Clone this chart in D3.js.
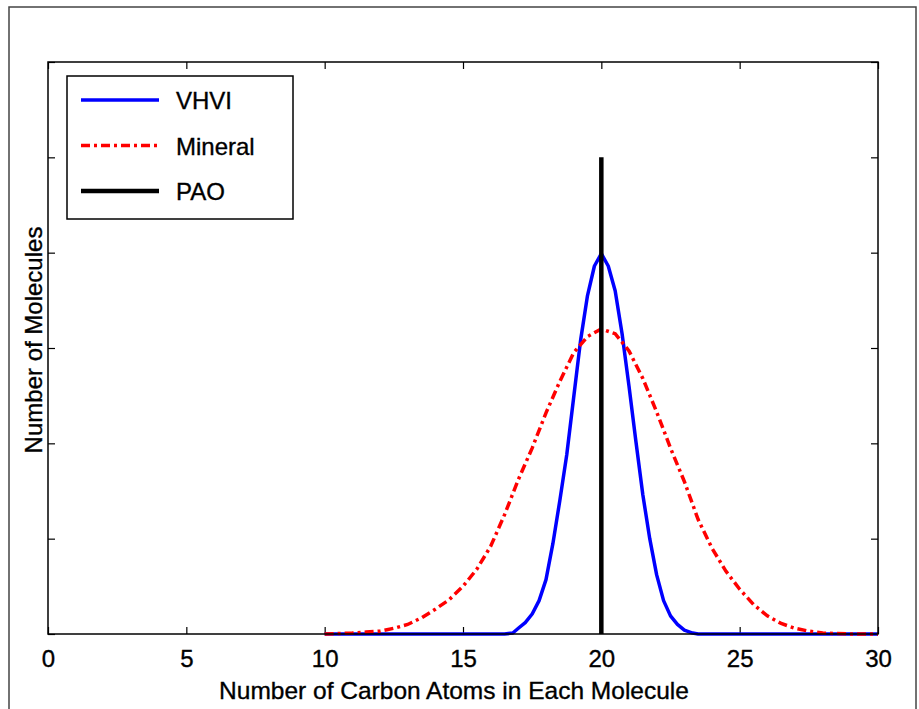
<!DOCTYPE html>
<html>
<head>
<meta charset="utf-8">
<script src="https://cdn.jsdelivr.net/npm/d3@7"></script>
<style>
  body { margin: 0; background: #fff; }
  svg { display: block; font-family: "Liberation Sans", Arial, sans-serif; }
  text { stroke: #000; stroke-width: 0.35px; }
</style>
</head>
<body>
<svg width="919" height="709"></svg>
<script>
// data
var xTicks = [0, 5, 10, 15, 20, 25, 30];
var yTicks = [0, 1, 2, 3, 4, 5, 6];

var vhviX = [10, 11, 12, 13, 14, 15, 16, 16.5, 16.8, 17, 17.25, 17.5, 17.75, 18, 18.25, 18.5, 18.75, 19, 19.25, 19.5, 19.75, 20,
             20.25, 20.5, 20.75, 21, 21.25, 21.5, 21.75, 22, 22.25, 22.5, 22.75, 23, 23.3, 23.5, 25, 27, 30];
var vhviY = [0, 0, 0, 0, 0, 0, 0, 0, 0.01, 0.06, 0.12, 0.21, 0.35, 0.57, 0.95, 1.40, 1.88, 2.48, 3.08, 3.55, 3.86, 3.99,
             3.86, 3.60, 3.15, 2.60, 2.02, 1.46, 1.00, 0.62, 0.35, 0.19, 0.10, 0.04, 0.01, 0, 0, 0, 0];

var mineralX = [10, 10.5, 11, 11.5, 12, 12.5, 13, 13.5, 14, 14.5, 15, 15.5, 16, 16.5, 17, 17.5, 18, 18.5, 19, 19.5, 20,
                20.5, 21, 21.5, 22, 22.5, 23, 23.5, 24, 24.5, 25, 25.5, 26, 26.5, 27, 27.5, 28, 28.5, 29, 29.5, 30];
var mineralY = [0, 0.005, 0.01, 0.02, 0.03, 0.06, 0.10, 0.17, 0.26, 0.36, 0.50, 0.68, 0.92, 1.25, 1.62, 1.95, 2.32, 2.65, 2.95, 3.12, 3.20,
                3.15, 2.97, 2.68, 2.33, 1.95, 1.60, 1.20, 0.90, 0.66, 0.47, 0.31, 0.19, 0.11, 0.06, 0.03, 0.01, 0.005, 0, 0, 0];

var paoX = [20, 20];
var paoY = [0, 5];

var seriesNames = ["VHVI", "Mineral", "PAO"];

var svg = d3.select("svg"),
    margin = {top: 62, right: 41, bottom: 75, left: 48},
    width = +svg.attr("width") - margin.left - margin.right,
    height = +svg.attr("height") - margin.top - margin.bottom;

var x = d3.scaleLinear().domain([0, 30]).range([0, width]),
    y = d3.scaleLinear().domain([0, 6]).range([height, 0]);

// outer figure frame
svg.append("rect")
    .attr("x", 9).attr("y", 7)
    .attr("width", 907).attr("height", 720)
    .attr("fill", "none")
    .attr("stroke", "#444")
    .attr("stroke-width", 1.5);

var g = svg.append("g")
    .attr("transform", "translate(" + margin.left + "," + margin.top + ")");

function styleAxis(sel) {
    sel.select(".domain").remove();
    sel.selectAll(".tick line").attr("stroke", "#000").attr("stroke-width", 1.2);
    sel.selectAll(".tick text").attr("fill", "#000").style("font-size", "24px")
        .style("font-family", "'Liberation Sans', Arial, sans-serif");
}

g.append("g")
    .attr("transform", "translate(0," + height + ")")
    .call(d3.axisBottom(x).tickValues(xTicks).tickSizeInner(-7).tickSizeOuter(0).tickPadding(16))
    .call(styleAxis);

g.append("g")
    .call(d3.axisTop(x).tickValues(xTicks).tickSizeInner(-7).tickSizeOuter(0).tickFormat(""))
    .call(styleAxis);

g.append("g")
    .call(d3.axisLeft(y).tickValues(yTicks).tickSizeInner(-7).tickSizeOuter(0).tickFormat(""))
    .call(styleAxis);

g.append("g")
    .attr("transform", "translate(" + width + ",0)")
    .call(d3.axisRight(y).tickValues(yTicks).tickSizeInner(-7).tickSizeOuter(0).tickFormat(""))
    .call(styleAxis);

var line = d3.line()
    .x(function (d) { return x(d[0]); })
    .y(function (d) { return y(d[1]); });

var vhvi = d3.zip(vhviX, vhviY),
    mineral = d3.zip(mineralX, mineralY),
    pao = d3.zip(paoX, paoY);

g.append("path")
    .datum(vhvi)
    .attr("fill", "none")
    .attr("stroke", "#0000ff")
    .attr("stroke-width", 3.5)
    .attr("stroke-linejoin", "round")
    .attr("d", line);

g.append("path")
    .datum(mineral)
    .attr("fill", "none")
    .attr("stroke", "#ff0000")
    .attr("stroke-width", 3.5)
    .attr("stroke-dasharray", "9,4,3,4")
    .attr("d", line);

g.append("path")
    .datum(pao)
    .attr("fill", "none")
    .attr("stroke", "#000")
    .attr("stroke-width", 4.5)
    .attr("d", line);

// plot frame
g.append("rect")
    .attr("width", width)
    .attr("height", height)
    .attr("fill", "none")
    .attr("stroke", "#000")
    .attr("stroke-width", 1.5);

// axis labels
svg.append("text")
    .attr("x", 454).attr("y", 699)
    .attr("text-anchor", "middle")
    .style("font-size", "24.5px")
    .text("Number of Carbon Atoms in Each Molecule");

svg.append("text")
    .attr("transform", "translate(42,340) rotate(-90)")
    .attr("text-anchor", "middle")
    .style("font-size", "24px")
    .text("Number of Molecules");

// legend
var legend = svg.append("g");
legend.append("rect")
    .attr("x", 67).attr("y", 76)
    .attr("width", 226).attr("height", 143)
    .attr("fill", "#fff")
    .attr("stroke", "#000")
    .attr("stroke-width", 1.5);

var legendStyle = [
    {color: "#0000ff", width: 3.5, dash: null},
    {color: "#ff0000", width: 3.5, dash: "9,4,3,4"},
    {color: "#000", width: 4.5, dash: null}
];

seriesNames.forEach(function (name, i) {
    var ly = 100 + i * 45.5;
    legend.append("line")
        .attr("x1", 81).attr("x2", 159)
        .attr("y1", ly).attr("y2", ly)
        .attr("stroke", legendStyle[i].color)
        .attr("stroke-width", legendStyle[i].width)
        .attr("stroke-dasharray", legendStyle[i].dash);
    legend.append("text")
        .attr("x", 176).attr("y", ly + 9)
        .style("font-size", "24px")
        .text(name);
});
</script>
</body>
</html>
